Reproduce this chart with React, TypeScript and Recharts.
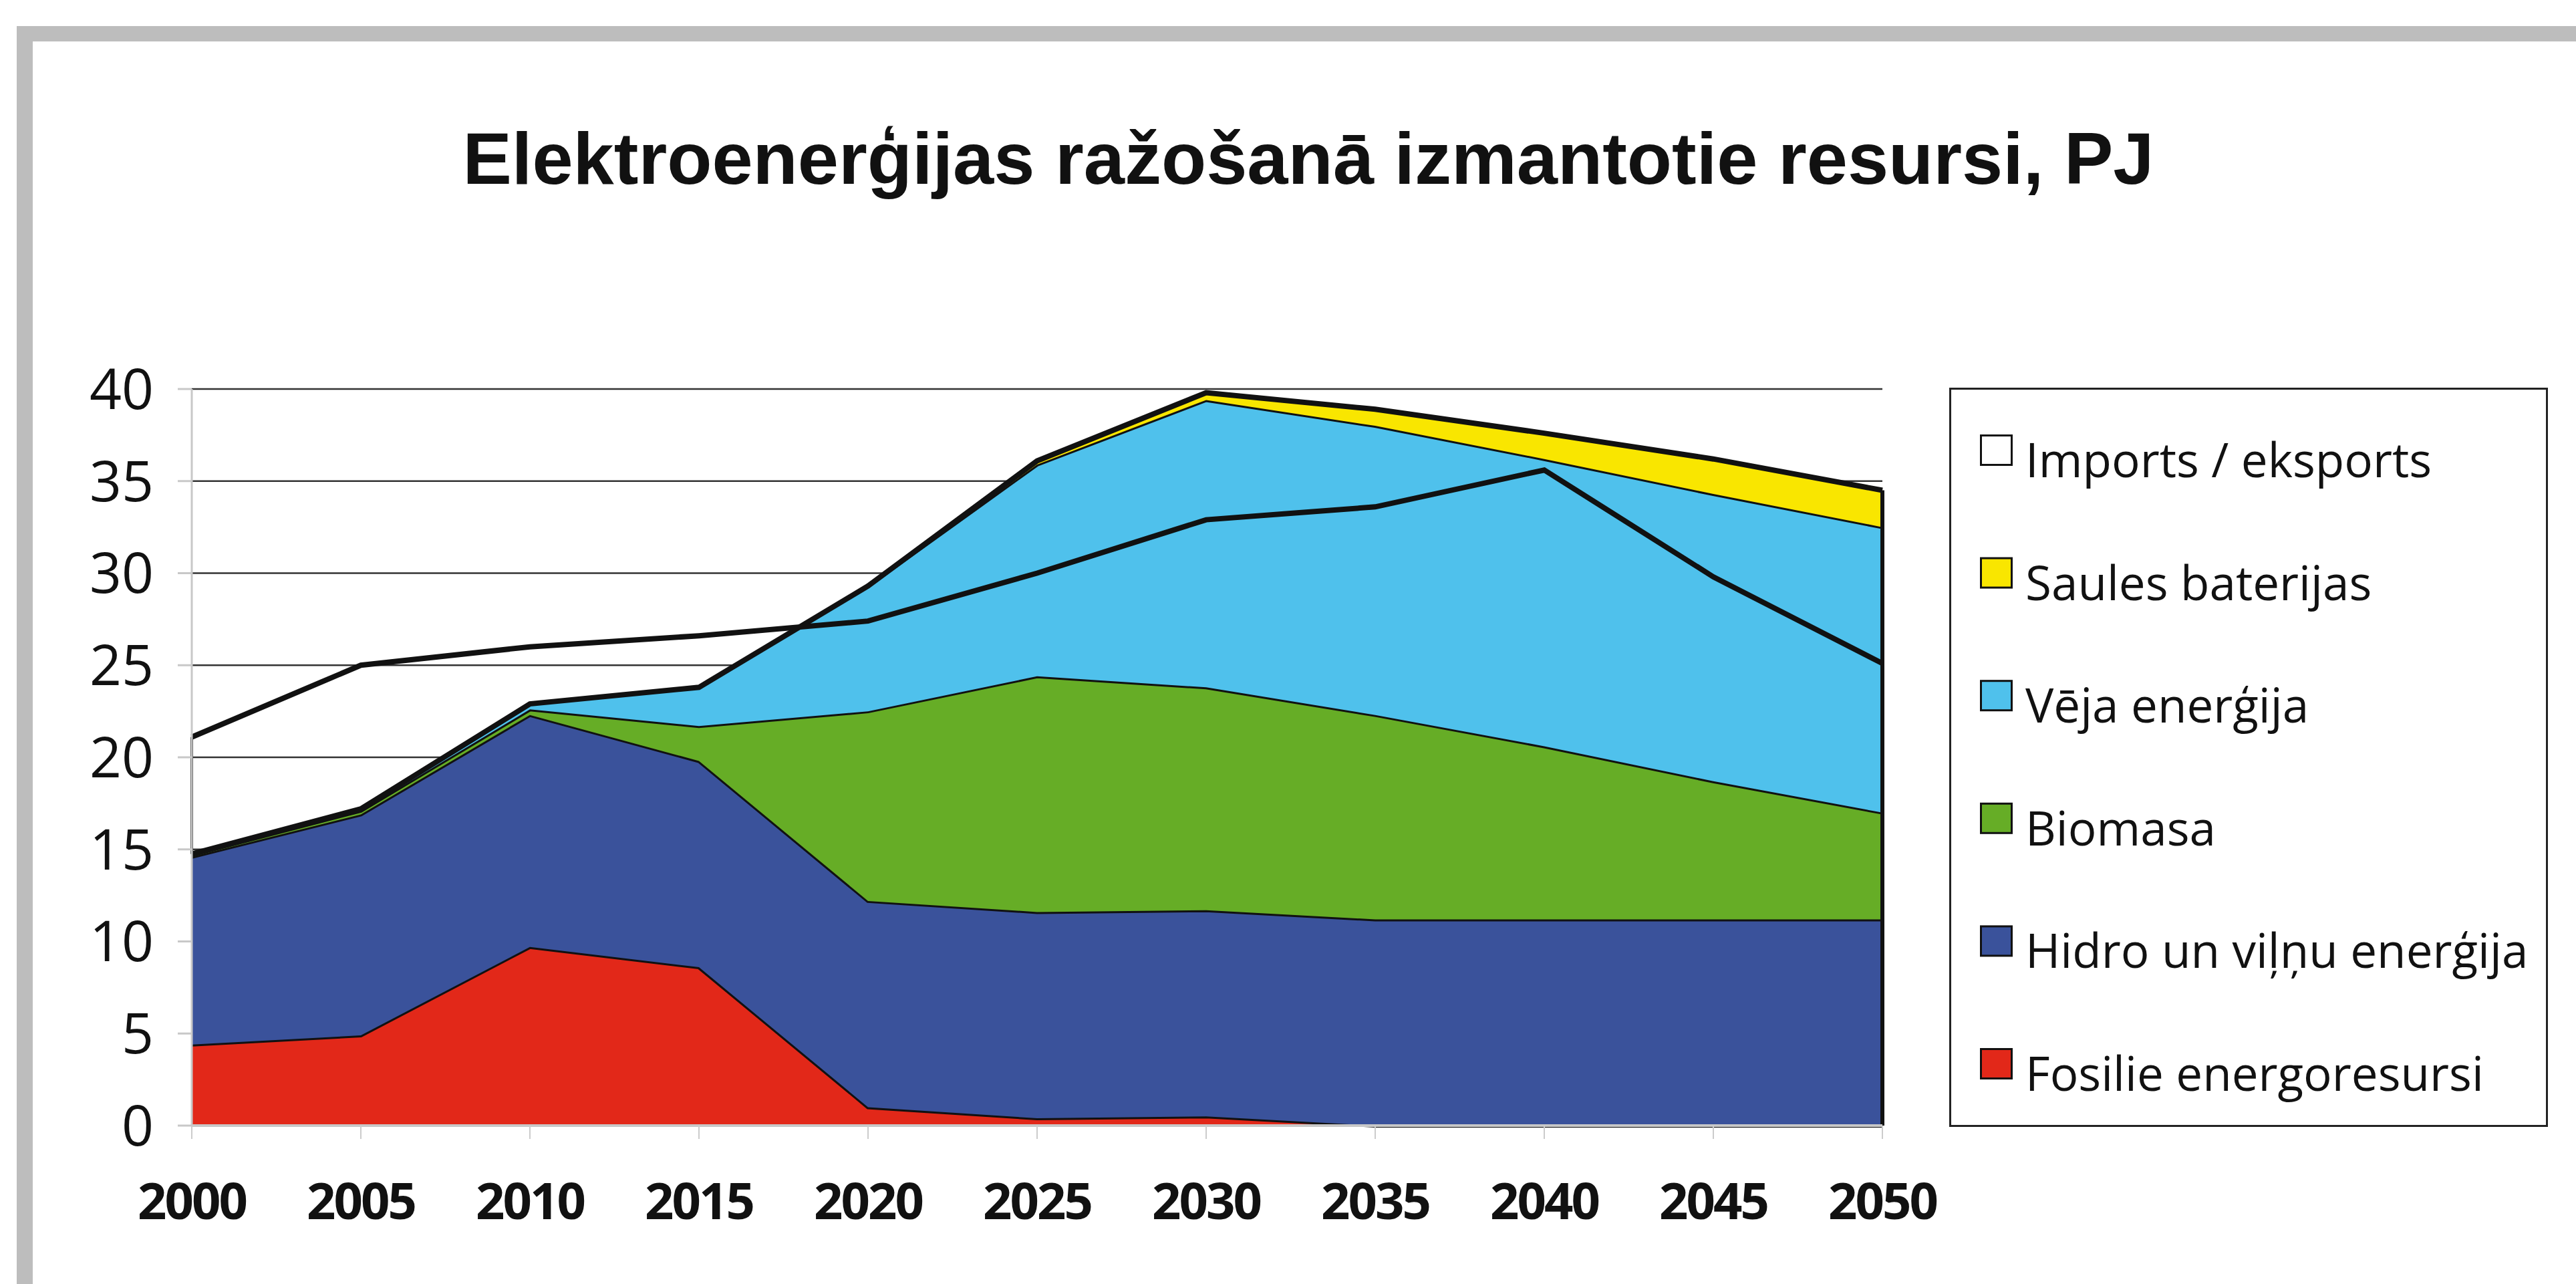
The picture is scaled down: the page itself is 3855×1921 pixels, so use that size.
import React from "react";
import {
  ComposedChart,
  Area,
  Line,
  XAxis,
  YAxis,
  CartesianGrid,
  ReferenceLine,
} from "recharts";

const years = [2000, 2005, 2010, 2015, 2020, 2025, 2030, 2035, 2040, 2045, 2050];
const fossil = [4.4, 4.9, 9.7, 8.6, 1.0, 0.4, 0.5, 0, 0, 0, 0];
const hydro = [10.2, 12.0, 12.6, 11.2, 11.2, 11.2, 11.2, 11.2, 11.2, 11.2, 11.2];
const biomass = [0.1, 0.2, 0.3, 1.9, 10.3, 12.8, 12.1, 11.1, 9.4, 7.5, 5.8];
const wind = [0.05, 0.1, 0.3, 2.1, 6.8, 11.5, 15.6, 15.7, 15.6, 15.6, 15.5];
const solar = [0, 0, 0, 0, 0, 0.2, 0.4, 0.9, 1.4, 1.9, 2.0];
const imports = [21.1, 25.0, 26.0, 26.6, 27.4, 30.0, 32.9, 33.6, 35.6, 29.8, 25.1];
const yTicks = [0, 5, 10, 15, 20, 25, 30, 35, 40];

const title = "Elektroenerģijas ražošanā izmantotie resursi, PJ";

// legend order top -> bottom
const legendItems = [
  { name: "Imports / eksports", color: "#ffffff" },
  { name: "Saules baterijas", color: "#f9e600" },
  { name: "Vēja enerģija", color: "#4fc1ec" },
  { name: "Biomasa", color: "#66ad26" },
  { name: "Hidro un viļņu enerģija", color: "#3a529b" },
  { name: "Fosilie energoresursi", color: "#e22819" },
];

const data = years.map((year, i) => ({
  year,
  fossil: fossil[i],
  hydro: hydro[i],
  biomass: biomass[i],
  wind: wind[i],
  solar: solar[i],
  imports: imports[i],
}));

const stackTop = (i: number) =>
  fossil[i] + hydro[i] + biomass[i] + wind[i] + solar[i];

const sans = "'Open Sans', 'Noto Sans', sans-serif";
const last = years.length - 1;

function ChartLegend() {
  return (
    <svg
      width={896}
      height={1106}
      style={{ position: "absolute", left: 2917, top: 580 }}
    >
      <rect x={1.5} y={1.5} width={893} height={1103} fill="#fff" stroke="#222" strokeWidth={3} />
      {legendItems.map((item, i) => (
        <g key={item.name}>
          <rect
            x={47.5}
            y={71.5 + i * 183.6}
            width={46}
            height={44}
            fill={item.color}
            stroke="#111"
            strokeWidth={3}
          />
          <text
            x={114}
            y={134 + i * 183.6}
            fontFamily={sans}
            fontSize={71}
            fill="#111"
          >
            {item.name}
          </text>
        </g>
      ))}
    </svg>
  );
}

export default function App() {
  return (
    <div
      style={{
        position: "absolute",
        left: 0,
        top: 0,
        width: 3855,
        height: 1921,
        background: "#fff",
        overflow: "hidden",
      }}
    >
      <div
        style={{
          position: "absolute",
          left: 25,
          top: 39,
          width: 3900,
          height: 1950,
          borderTop: "23px solid #bdbdbd",
          borderLeft: "24px solid #bdbdbd",
        }}
      />
      <svg width={3855} height={320} style={{ position: "absolute", left: 0, top: 0 }}>
        <text
          x={1958}
          y={275}
          textAnchor="middle"
          fontFamily="'Liberation Sans', Arial, sans-serif"
          fontWeight={700}
          fontSize={110}
          fill="#111"
        >
          {title}
        </text>
      </svg>
      <div style={{ position: "absolute", left: 0, top: 0 }}>
        <ComposedChart
          width={3855}
          height={1921}
          data={data}
          margin={{ top: 582, right: 1038, bottom: 37, left: 0 }}
        >
          <CartesianGrid vertical={false} stroke="#333" strokeWidth={2.5} />
          <XAxis
            dataKey="year"
            type="number"
            domain={[2000, 2050]}
            ticks={years}
            height={200}
            axisLine={{ stroke: "#c8c8c8", strokeWidth: 4 }}
            tickLine={{ stroke: "#cccccc", strokeWidth: 2 }}
            tickSize={20}
            tickMargin={66}
            tick={{ fontSize: 76, fontWeight: 700, fill: "#111", fontFamily: sans, letterSpacing: -3 }}
          />
          <YAxis
            domain={[0, 40]}
            ticks={yTicks}
            width={287}
            axisLine={{ stroke: "#c8c8c8", strokeWidth: 3 }}
            tickLine={{ stroke: "#c8c8c8", strokeWidth: 3 }}
            tickSize={21}
            tickMargin={36}
            tick={{ fontSize: 84, fill: "#111", fontFamily: sans }}
          />
          <Area type="linear" dataKey="fossil" stackId="1" fill="#e22819" fillOpacity={1} stroke="#111" strokeWidth={6} isAnimationActive={false} />
          <Area type="linear" dataKey="hydro" stackId="1" fill="#3a529b" fillOpacity={1} stroke="#111" strokeWidth={6} isAnimationActive={false} />
          <Area type="linear" dataKey="biomass" stackId="1" fill="#66ad26" fillOpacity={1} stroke="#111" strokeWidth={6} isAnimationActive={false} />
          <Area type="linear" dataKey="wind" stackId="1" fill="#4fc1ec" fillOpacity={1} stroke="#111" strokeWidth={6} isAnimationActive={false} />
          <Area type="linear" dataKey="solar" stackId="1" fill="#f9e600" fillOpacity={1} stroke="#111" strokeWidth={8} isAnimationActive={false} />
          <Line type="linear" dataKey="imports" stroke="#111" strokeWidth={8} dot={false} isAnimationActive={false} />
          <ReferenceLine
            segment={[{ x: years[last], y: 0 }, { x: years[last], y: stackTop(last) }]}
            stroke="#111"
            strokeWidth={6}
          />
          <ReferenceLine
            segment={[{ x: years[0], y: stackTop(0) }, { x: years[0], y: imports[0] }]}
            stroke="#111"
            strokeWidth={4}
          />
        </ComposedChart>
      </div>
      <ChartLegend />
    </div>
  );
}
